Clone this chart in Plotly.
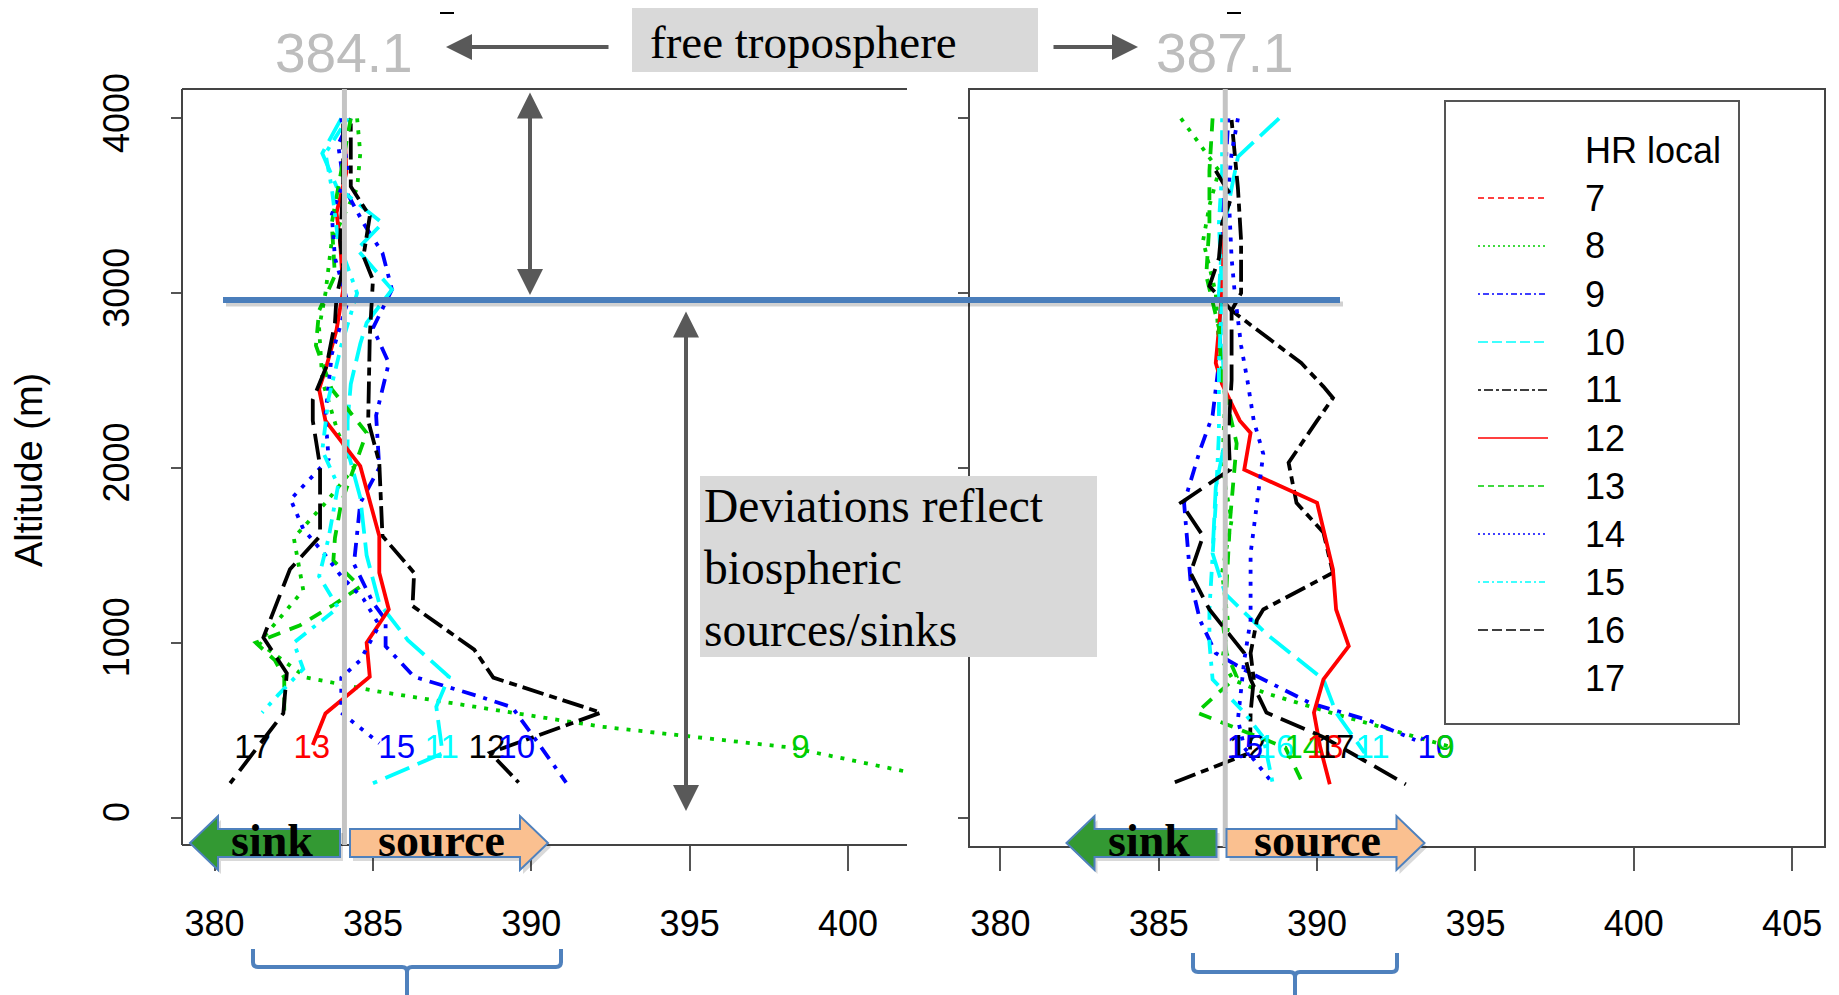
import plotly.graph_objects as go

W, H = 1839, 995

# ---------------- data ----------------
legend_hours = [7, 8, 9, 10, 11, 12, 13, 14, 15, 16, 17]
legend_colors = ['#ff0000', '#00cd00', '#0000ff', '#00ffff', '#000000',
                 '#ff0000', '#00cd00', '#0000ff', '#00ffff', '#000000', None]
legend_lty = ['dash', 'dot', 'dotdash', 'longdash', 'twodash',
              'solid', 'dash', 'dot', 'dotdash', 'longdash', None]

# left panel profiles (CO2 ppm vs altitude m), keyed by plotted label hour
left_alt_9 = [4000, 3800, 3600, 3300, 3000, 2800, 2500, 2200, 2000, 1800, 1600, 1300, 1000, 800, 720, 630, 520, 400, 260]
left_co2_9 = [384.5, 384.6, 384.5, 383.7, 383.5, 383.3, 383.4, 383.9, 384.4, 383.5, 382.5, 382.8, 381.4, 382.9, 385.2, 388.4, 392.2, 398.2, 401.9]
left_alt_10 = [4000, 3850, 3600, 3400, 3230, 3020, 2800, 2600, 2300, 2000, 1800, 1450, 1230, 1130, 980, 805, 690, 630, 430, 200]
left_co2_10 = [384.3, 383.9, 384.1, 384.7, 385.3, 385.6, 385.0, 385.5, 385.1, 385.2, 384.6, 384.4, 385.0, 385.4, 385.4, 386.3, 388.4, 389.4, 390.2, 391.1]
left_alt_11 = [4000, 3800, 3610, 3400, 3250, 3020, 2830, 2710, 2480, 2270, 2100, 1830, 1500, 1225, 1015, 805, 634, 367, 196]
left_co2_11 = [384.0, 383.4, 383.85, 385.3, 384.5, 385.6, 384.8, 384.6, 384.3, 384.2, 384.2, 384.6, 384.8, 385.2, 386.1, 387.4, 387.0, 387.2, 385.0]
left_alt_12 = [3970, 3610, 3440, 3210, 3075, 2750, 2270, 2030, 1610, 1400, 1210, 960, 800, 600, 370, 200]
left_co2_12 = [384.3, 384.3, 384.9, 384.7, 385.0, 384.9, 384.85, 385.2, 385.3, 386.3, 386.25, 388.2, 388.8, 392.2, 388.7, 389.6]
left_alt_13 = [3950, 3690, 3460, 3300, 3020, 2790, 2580, 2450, 2270, 2010, 1610, 1400, 1190, 1000, 805, 595, 415]
left_co2_13 = [384.1, 384.16, 383.85, 383.96, 384.06, 383.85, 383.53, 383.3, 383.5, 384.6, 385.2, 385.2, 385.5, 384.8, 384.9, 383.5, 383.1]
left_alt_14 = [4000, 3700, 3400, 3100, 2900, 2700, 2450, 2200, 2000, 1800, 1600, 1470, 1320, 1210, 1100, 1000, 900, 800, 600]
left_co2_14 = [384.3, 384.0, 383.7, 383.8, 383.3, 383.2, 383.7, 384.8, 384.4, 384.0, 383.8, 383.75, 384.6, 383.7, 382.7, 381.3, 381.9, 382.2, 382.2]
left_alt_15 = [4000, 3700, 3450, 3200, 2950, 2650, 2300, 2050, 1820, 1650, 1500, 1380, 1250, 1100, 900, 800, 600, 425]
left_co2_15 = [384.0, 384.2, 383.7, 383.8, 384.2, 383.7, 383.5, 383.6, 382.4, 382.8, 383.5, 384.0, 384.7, 385.2, 384.6, 384.0, 384.0, 385.2]
left_alt_16 = [4000, 3800, 3600, 3300, 3000, 2700, 2400, 2100, 1900, 1600, 1380, 1200, 1000, 850, 700, 600]
left_co2_16 = [384.2, 383.5, 383.7, 383.9, 384.5, 384.0, 383.6, 383.4, 383.9, 383.6, 383.3, 383.9, 382.5, 382.8, 382.0, 381.5]
left_alt_17 = [3970, 3610, 3300, 3150, 2980, 2830, 2580, 2390, 2270, 2010, 1610, 1420, 1030, 825, 596, 196]
left_co2_17 = [384.06, 384.06, 383.96, 384.06, 383.85, 383.8, 383.53, 383.1, 383.1, 383.33, 383.33, 382.38, 381.54, 382.28, 382.17, 380.49]

# right panel profiles
right_alt_9 = [4000, 3900, 3800, 3700, 3500, 3300, 3000, 2700, 2400, 2000, 1700, 1400, 1100, 900, 787, 710, 596, 405]
right_co2_9 = [385.7, 386.1, 386.5, 386.9, 386.6, 386.4, 386.8, 386.9, 387.1, 387.0, 387.3, 387.0, 387.2, 387.0, 387.35, 388.4, 390.5, 394.2]
right_alt_10 = [4000, 3700, 3400, 3000, 2600, 2300, 2100, 1800, 1600, 1360, 1130, 940, 845, 653, 558, 443]
right_co2_10 = [387.2, 387.1, 387.0, 387.0, 386.9, 386.7, 386.3, 385.8, 385.9, 386.0, 386.3, 386.8, 387.7, 389.8, 391.6, 393.1]
right_alt_11 = [4000, 3780, 3600, 3300, 3000, 2700, 2400, 2160, 1890, 1510, 1280, 1050, 790, 600, 370]
right_co2_11 = [388.8, 387.5, 387.3, 387.0, 386.9, 387.0, 387.1, 387.1, 386.8, 386.7, 387.1, 388.4, 390.2, 390.6, 391.5]
right_alt_12 = [3990, 3600, 3300, 3000, 2900, 2750, 2600, 2465, 2400, 2270, 2030, 1800, 1630, 1400, 1190, 1130, 940, 790, 600, 370, 190]
right_co2_12 = [387.3, 387.5, 387.6, 387.6, 387.3, 388.4, 389.5, 390.2, 390.5, 390.0, 389.1, 389.35, 390.2, 390.5, 388.3, 388.1, 387.9, 388.0, 387.9, 387.88, 385.35]
right_alt_13 = [4000, 3500, 3000, 2600, 2480, 2390, 2270, 2200, 1990, 1800, 1420, 1190, 980, 790, 600, 400, 190]
right_co2_13 = [387.1, 387.1, 387.0, 386.8, 387.0, 387.25, 387.56, 387.9, 387.7, 390.0, 390.5, 390.6, 391.0, 390.2, 389.9, 390.1, 390.4]
right_alt_14 = [4000, 3700, 3400, 3100, 2800, 2500, 2140, 1700, 1320, 1090, 940, 805, 700, 600, 400, 190]
right_co2_14 = [386.7, 386.6, 386.6, 386.5, 386.9, 387.0, 387.46, 387.25, 387.14, 387.04, 387.14, 387.46, 386.8, 386.2, 389.0, 389.56]
right_alt_15 = [4000, 3800, 3600, 3200, 3000, 2850, 2700, 2500, 2270, 2080, 1800, 1510, 1130, 900, 560, 400, 195]
right_co2_15 = [387.5, 387.3, 387.2, 387.3, 387.4, 387.5, 387.6, 387.8, 388.0, 388.3, 388.1, 387.9, 387.9, 387.7, 387.5, 387.7, 388.6]
right_alt_16 = [4000, 3700, 3400, 3000, 2600, 2200, 1800, 1500, 1190, 1000, 790, 600, 460, 195]
right_co2_16 = [387.0, 387.0, 386.9, 387.0, 386.9, 386.9, 386.8, 386.7, 386.6, 386.6, 386.7, 387.7, 388.3, 388.6]
right_alt_17 = [3700, 3550, 3400, 3200, 3040, 2980, 2900, 2500, 2200, 1990, 1800, 1610, 1400, 1190, 940, 790, 600, 460, 190]
right_co2_17 = [386.8, 387.3, 387.0, 386.9, 386.6, 386.9, 387.3, 387.3, 387.2, 387.25, 385.7, 386.4, 386.0, 386.6, 387.7, 387.9, 388.4, 390.2, 392.8]

label_alt = 385
left_label_hours = [17, 13, 15, 11, 12, 10, 9]
left_label_co2 = [381.2, 383.07, 385.75, 387.17, 388.6, 389.54, 398.5]
right_label_hours = [12, 15, 16, 14, 13, 17, 11, 10, 9]
right_label_co2 = [387.8, 387.72, 388.7, 389.55, 390.25, 390.6, 391.75, 393.75, 394.05]

ft_mean_left = 384.1
ft_mean_right = 387.1
left_xticks = [380, 385, 390, 395, 400]
right_xticks = [380, 385, 390, 395, 400, 405]
alt_ticks = [0, 1000, 2000, 3000, 4000]

# ---------------- helpers ----------------
def px(x):
    return x / W

def py(y):
    return 1 - y / H

DASH_THICK = {'solid': 'solid', 'dash': '13px,10px', 'dot': '4px,8px',
              'dotdash': '4px,8px,14px,8px', 'longdash': '26px,9px',
              'twodash': '8px,6px,22px,6px'}
DASH_THIN = {'solid': 'solid', 'dash': '6px,4px', 'dot': '2px,3px',
             'dotdash': '2px,3px,6px,3px', 'longdash': '10px,4px',
             'twodash': '3px,3px,9px,3px'}

def style_for(label_hour):
    i = legend_hours.index(label_hour - 1)
    return legend_colors[i], legend_lty[i]

left_profiles = {9: (left_co2_9, left_alt_9), 10: (left_co2_10, left_alt_10), 11: (left_co2_11, left_alt_11),
                 12: (left_co2_12, left_alt_12), 13: (left_co2_13, left_alt_13), 14: (left_co2_14, left_alt_14),
                 15: (left_co2_15, left_alt_15), 16: (left_co2_16, left_alt_16), 17: (left_co2_17, left_alt_17)}
right_profiles = {9: (right_co2_9, right_alt_9), 10: (right_co2_10, right_alt_10), 11: (right_co2_11, right_alt_11),
                  12: (right_co2_12, right_alt_12), 13: (right_co2_13, right_alt_13), 14: (right_co2_14, right_alt_14),
                  15: (right_co2_15, right_alt_15), 16: (right_co2_16, right_alt_16), 17: (right_co2_17, right_alt_17)}

fig = go.Figure()

for (prof, xa, ya) in [(left_profiles, 'x', 'y'), (right_profiles, 'x2', 'y2')]:
    for h, (co2, alt) in prof.items():
        col, lty = style_for(h)
        fig.add_trace(go.Scatter(x=co2, y=alt, mode='lines', xaxis=xa, yaxis=ya,
                                 line=dict(color=col, width=3.8, dash=DASH_THICK[lty]),
                                 showlegend=False, hoverinfo='skip'))

for (hours, xs, xa, ya) in [(left_label_hours, left_label_co2, 'x', 'y'),
                            (right_label_hours, right_label_co2, 'x2', 'y2')]:
    for h, xv in zip(hours, xs):
        col, _ = style_for(h)
        fig.add_trace(go.Scatter(x=[xv], y=[label_alt], mode='text', text=[str(h)],
                                 textfont=dict(family='Liberation Sans, Arial', size=33, color=col),
                                 xaxis=xa, yaxis=ya, showlegend=False, hoverinfo='skip',
                                 cliponaxis=False))

# ---------------- axes ----------------
Y_TOP, Y_BOT = 89, 845
ydom = [py(Y_BOT), py(Y_TOP)]
yrange = [(817.5 - Y_BOT) / 0.1748, (817.5 - Y_TOP) / 0.1748]
xl0, xl1 = 182, 907
xr0, xr1 = 969, 1825
left_range = [380 + (xl0 - 214.6) / 31.67, 380 + (xl1 - 214.6) / 31.67]
right_range = [380 + (xr0 - 1000.4) / 31.67, 380 + (xr1 - 1000.4) / 31.67]

tickfont = dict(family='Liberation Sans, Arial', size=36, color='black')
common_x = dict(showgrid=False, zeroline=False, showline=False, ticks='outside', ticklen=25,
                tickwidth=1.5, tickcolor='#555', tickfont=tickfont, ticklabelstandoff=22,
                automargin=False)
fig.update_layout(
    template='none',
    width=W, height=H, margin=dict(l=0, r=0, t=0, b=0, pad=0, autoexpand=False),
    paper_bgcolor='white', plot_bgcolor='white', showlegend=False,
    xaxis=dict(domain=[px(xl0), px(xl1)], range=left_range, tickvals=left_xticks,
               anchor='y', **common_x),
    xaxis2=dict(domain=[px(xr0), px(xr1)], range=right_range, tickvals=right_xticks,
                anchor='y2', **common_x),
    yaxis=dict(domain=ydom, range=yrange, tickvals=alt_ticks, anchor='x', showgrid=False,
               zeroline=False, showline=False, ticks='outside', ticklen=10, tickwidth=1.5,
               tickcolor='#555', tickangle=-90, tickfont=tickfont, ticklabelstandoff=28,
               automargin=False),
    yaxis2=dict(domain=ydom, range=yrange, tickvals=alt_ticks, anchor='x2', showgrid=False,
                zeroline=False, showline=False, ticks='outside', ticklen=10, tickwidth=1.5,
                tickcolor='#555', showticklabels=False, automargin=False),
)

shapes = []
frame = dict(color='#444', width=2)
# left frame (open on the right)
shapes += [dict(type='line', xref='paper', yref='paper', x0=px(xl0), x1=px(xl1), y0=py(Y_TOP), y1=py(Y_TOP), line=frame),
           dict(type='line', xref='paper', yref='paper', x0=px(xl0), x1=px(xl0), y0=py(Y_TOP), y1=py(Y_BOT), line=frame),
           dict(type='line', xref='paper', yref='paper', x0=px(xl0), x1=px(xl1), y0=py(Y_BOT), y1=py(Y_BOT), line=frame)]
shapes.append(dict(type='rect', xref='paper', yref='paper', x0=px(xr0), x1=px(xr1), y0=py(847), y1=py(Y_TOP), line=frame))

# free-troposphere mean lines
shapes.append(dict(type='line', xref='x', yref='paper', x0=ft_mean_left, x1=ft_mean_left,
                   y0=py(Y_BOT), y1=py(Y_TOP), line=dict(color='#c4c4c4', width=5), layer='above'))
shapes.append(dict(type='line', xref='x2', yref='paper', x0=ft_mean_right, x1=ft_mean_right,
                   y0=py(847), y1=py(Y_TOP), line=dict(color='#c4c4c4', width=5), layer='above'))

# boundary-layer top line with shadow
shapes.append(dict(type='line', xref='paper', yref='paper', x0=px(226), x1=px(1343), y0=py(304), y1=py(304),
                   line=dict(color='rgba(0,0,0,0.18)', width=5), layer='above'))
shapes.append(dict(type='line', xref='paper', yref='paper', x0=px(223), x1=px(1340), y0=py(300), y1=py(300),
                   line=dict(color='#4a7ebb', width=6), layer='above'))

# small top dashes
for xc in [447, 1234]:
    shapes.append(dict(type='line', xref='paper', yref='paper', x0=px(xc - 7), x1=px(xc + 7), y0=py(13), y1=py(13),
                       line=dict(color='black', width=2)))

# gray text boxes
shapes.append(dict(type='rect', xref='paper', yref='paper', x0=px(632), x1=px(1038), y0=py(72), y1=py(8),
                   fillcolor='#d9d9d9', line=dict(width=0), layer='above'))
shapes.append(dict(type='rect', xref='paper', yref='paper', x0=px(700), x1=px(1097), y0=py(657), y1=py(476),
                   fillcolor='#d9d9d9', line=dict(width=0), layer='above'))

def path(points):
    s = 'M ' + ' L '.join(f'{px(a):.5f},{py(b):.5f}' for a, b in points) + ' Z'
    return s

def sink_pts(dx):
    return [(190 + dx, 843), (218 + dx, 816), (218 + dx, 829), (340 + dx, 829), (340 + dx, 857),
            (218 + dx, 857), (218 + dx, 870)]

def source_pts(dx):
    return [(350 + dx, 829), (520 + dx, 829), (520 + dx, 816), (548 + dx, 843), (520 + dx, 870),
            (520 + dx, 857), (350 + dx, 857)]

for dx in [0, 876.5]:
    shapes.append(dict(type='path', xref='paper', yref='paper', path=path([(a + 3, b + 4) for a, b in sink_pts(dx)]),
                       fillcolor='rgba(0,0,0,0.15)', line=dict(width=0), layer='above'))
    shapes.append(dict(type='path', xref='paper', yref='paper', path=path([(a + 3, b + 4) for a, b in source_pts(dx)]),
                       fillcolor='rgba(0,0,0,0.15)', line=dict(width=0), layer='above'))
    shapes.append(dict(type='path', xref='paper', yref='paper', path=path(sink_pts(dx)),
                       fillcolor='#339933', line=dict(color='#4f81bd', width=2), layer='above'))
    shapes.append(dict(type='path', xref='paper', yref='paper', path=path(source_pts(dx)),
                       fillcolor='#fac090', line=dict(color='#4f81bd', width=2), layer='above'))

# brackets under the axes
def bracket(x0, x1, ytop, yh, ybot):
    xm = (x0 + x1) / 2
    r = 5
    p = (f'M {px(x0):.5f},{py(ytop):.5f} L {px(x0):.5f},{py(yh - r):.5f} '
         f'Q {px(x0):.5f},{py(yh):.5f} {px(x0 + r):.5f},{py(yh):.5f} '
         f'L {px(xm - r):.5f},{py(yh):.5f} Q {px(xm):.5f},{py(yh):.5f} {px(xm):.5f},{py(yh + r):.5f} '
         f'L {px(xm):.5f},{py(ybot):.5f} M {px(xm):.5f},{py(yh + r):.5f} '
         f'Q {px(xm):.5f},{py(yh):.5f} {px(xm + r):.5f},{py(yh):.5f} '
         f'L {px(x1 - r):.5f},{py(yh):.5f} Q {px(x1):.5f},{py(yh):.5f} {px(x1):.5f},{py(yh - r):.5f} '
         f'L {px(x1):.5f},{py(ytop):.5f}')
    return p

shapes.append(dict(type='path', xref='paper', yref='paper', path=bracket(253, 561, 949, 967, 995),
                   line=dict(color='#4f81bd', width=4)))
shapes.append(dict(type='path', xref='paper', yref='paper', path=bracket(1193, 1397, 953, 972, 995),
                   line=dict(color='#4f81bd', width=4)))

# legend box and samples
shapes.append(dict(type='rect', xref='paper', yref='paper', x0=px(1445), x1=px(1739), y0=py(724), y1=py(101),
                   line=dict(color='#555', width=2), fillcolor='white'))
for i, (h, col, lty) in enumerate(zip(legend_hours, legend_colors, legend_lty)):
    yy = 198 + 48 * i
    if col is not None:
        shapes.append(dict(type='line', xref='paper', yref='paper', x0=px(1478), x1=px(1548), y0=py(yy), y1=py(yy),
                           line=dict(color=col, width=1.3, dash=DASH_THIN[lty])))

fig.update_layout(shapes=shapes)

ann = []
sans = 'Liberation Sans, Arial'
serif = 'Liberation Serif, Times New Roman'
ann.append(dict(xref='paper', yref='paper', x=px(1583), y=py(150), text='HR local', showarrow=False,
                xanchor='left', yanchor='middle', font=dict(family=sans, size=36, color='black')))
for i, h in enumerate(legend_hours):
    ann.append(dict(xref='paper', yref='paper', x=px(1583), y=py(198 + 48 * i), text=str(h), showarrow=False,
                    xanchor='left', yanchor='middle', font=dict(family=sans, size=36, color='black')))

ann.append(dict(xref='paper', yref='paper', x=px(29), y=py(470), text='Altitude (m)', textangle=-90,
                showarrow=False, xanchor='center', yanchor='middle',
                font=dict(family=sans, size=38, color='black')))

ann.append(dict(xref='x', yref='paper', x=ft_mean_left, y=py(53), text=f'{ft_mean_left:.1f}', showarrow=False,
                xanchor='center', yanchor='middle', font=dict(family=sans, size=55, color='#bdbdbd')))
ann.append(dict(xref='x2', yref='paper', x=ft_mean_right, y=py(53), text=f'{ft_mean_right:.1f}', showarrow=False,
                xanchor='center', yanchor='middle', font=dict(family=sans, size=55, color='#bdbdbd')))

ann.append(dict(xref='paper', yref='paper', x=px(648), y=py(42), text='free troposphere', showarrow=False,
                xanchor='left', yanchor='middle', font=dict(family=serif, size=47, color='black')))
ann.append(dict(xref='paper', yref='paper', x=px(702), y=py(568), text='Deviations reflect<br>biospheric<br>sources/sinks',
                showarrow=False, align='left', xanchor='left', yanchor='middle',
                font=dict(family=serif, size=47.5, color='black')))

for dx in [0, 876.5]:
    ann.append(dict(xref='paper', yref='paper', x=px(272 + dx), y=py(840), text='<b>sink</b>', showarrow=False,
                    xanchor='center', yanchor='middle', font=dict(family=serif, size=46, color='black')))
    ann.append(dict(xref='paper', yref='paper', x=px(441 + dx), y=py(840), text='<b>source</b>', showarrow=False,
                    xanchor='center', yanchor='middle', font=dict(family=serif, size=46, color='black')))

arrow_col = '#595959'
def arrow(hx, hy, tx, ty, both=False):
    d = dict(xref='paper', yref='paper', x=px(hx), y=py(hy), axref='pixel', ayref='pixel',
             ax=tx - hx, ay=ty - hy, text='', showarrow=True, arrowhead=2, arrowsize=1.3,
             arrowwidth=4, arrowcolor=arrow_col, standoff=0, startstandoff=0)
    if both:
        d.update(arrowside='end+start', startarrowhead=2, startarrowsize=1.3)
    return d

ann.append(arrow(446, 47, 610, 47))
ann.append(arrow(1138, 47, 1052, 47))
ann.append(arrow(530, 295, 530, 91, both=True))
ann.append(arrow(686, 811, 686, 310, both=True))

fig.update_layout(annotations=ann)
fig.write_html('out.html')
